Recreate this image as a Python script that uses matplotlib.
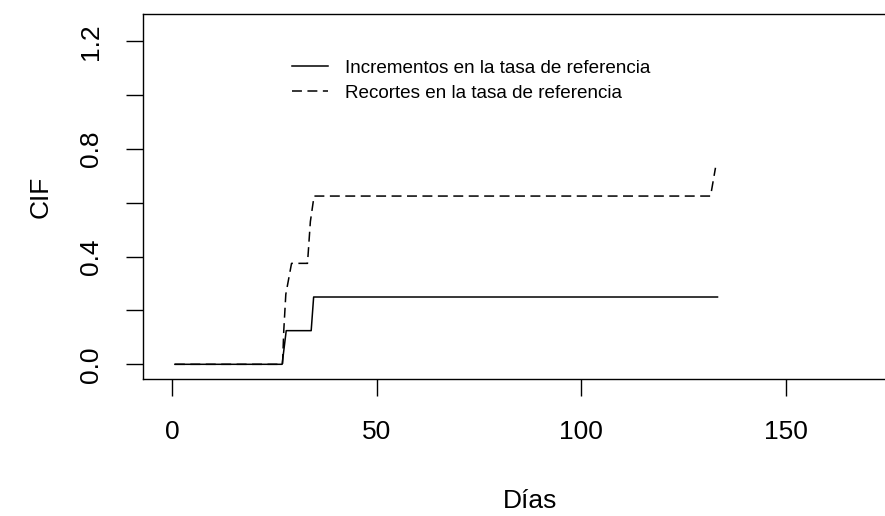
import matplotlib
matplotlib.use("Agg")
import matplotlib.pyplot as plt

# CIF curves
dias_inc = [0.7, 26.9, 27.9, 34.0, 34.6, 133.3]
cif_inc = [0.0, 0.0, 0.125, 0.125, 0.25, 0.25]

dias_rec = [0.7, 27.0, 27.3, 27.8, 29.2, 33.1, 33.8, 34.7, 131.6, 132.8]
cif_rec = [0.0, 0.0, 0.125, 0.26, 0.375, 0.375, 0.53, 0.625, 0.625, 0.73]

x_ticks = [0, 50, 100, 150]
y_ticks = [0.0, 0.2, 0.4, 0.6, 0.8, 1.0, 1.2]
y_labels = ["0.0", "", "0.4", "", "0.8", "", "1.2"]

plt.rcParams['font.family'] = ['Liberation Sans', 'DejaVu Sans']

W, H = 885, 516
fig = plt.figure(figsize=(W / 100, H / 100), dpi=100)
ax = fig.add_axes([143 / W, (H - 379.3) / H, (916.8 - 143) / W, (379.3 - 13.7) / H])

ax.plot(dias_inc, cif_inc, color='black', lw=1.1, label='Incrementos en la tasa de referencia')
ax.plot(dias_rec, cif_rec, color='black', lw=1.1, linestyle=(0, (6.5, 3.6)),
        label='Recortes en la tasa de referencia')

ax.set_xlim(-7.1, 182)
ax.set_ylim(-0.0557, 1.3024)

ax.set_xticks(x_ticks)
ax.set_xticklabels([str(t) for t in x_ticks])
ax.set_yticks(y_ticks)
ax.set_yticklabels(y_labels, rotation=90, va='center')

ax.tick_params(axis='both', direction='out', length=12, width=1.0, color='black',
               labelsize=19, pad=17)

for s in ax.spines.values():
    s.set_linewidth(1.0)
    s.set_color('black')

ax.set_xlabel('Días', fontsize=19, labelpad=33)
ax.set_ylabel('CIF', fontsize=19, labelpad=19)

ax.legend(loc='upper left', bbox_to_anchor=((292 - 143) / (916.8 - 143), 1 - (59.5 - 13.7) / (379.3 - 13.7)),
          frameon=False, fontsize=13.6, handlelength=1.9, handletextpad=0.9,
          labelspacing=0.42, borderpad=0, borderaxespad=0)

fig.savefig('out.png', dpi=100)
